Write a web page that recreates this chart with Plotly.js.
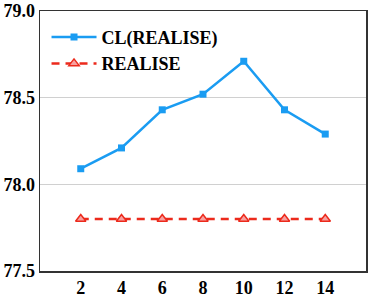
<!DOCTYPE html>
<html><head><meta charset="utf-8">
<script src="https://cdn.plot.ly/plotly-3.0.1.min.js"></script>
<style>html,body{margin:0;padding:0;background:#fff}#c{width:368px;height:294px}</style>
</head><body><div id="c"></div>
<script>
const xVals = [2, 4, 6, 8, 10, 12, 14];
const clRealise = [78.09, 78.21, 78.43, 78.52, 78.71, 78.43, 78.29];
const realise = [77.80, 77.80, 77.80, 77.80, 77.80, 77.80, 77.80];
const yTicks = [77.5, 78.0, 78.5, 79.0];
const yTickText = ['77.5', '78.0', '78.5', '79.0'];
const seriesNames = ['CL(REALISE)', 'REALISE'];

const fam = 'Liberation Serif';
const traces = [
  {x: xVals, y: clRealise, name: seriesNames[0], type: 'scatter', mode: 'lines+markers',
   line: {color: '#1a9cf2', width: 2.5}, marker: {symbol: 'square', size: 7, color: '#1a9cf2'}},
  {x: xVals, y: realise, name: seriesNames[1], type: 'scatter', mode: 'lines+markers',
   line: {color: '#ec2a1c', width: 2.5, dash: '8px,6px'},
   marker: {symbol: 'triangle-up', size: 9, color: '#f7a0a0', line: {color: '#ec2a1c', width: 1.5}}}
];
const layout = {
  width: 368, height: 294,
  margin: {l: 40, r: 2, t: 11, b: 23},
  font: {family: fam, size: 18, color: '#000', weight: 'bold'},
  showlegend: true,
  legend: {x: 0.02, y: 0.97, xanchor: 'left', yanchor: 'top', bgcolor: 'rgba(0,0,0,0)',
           itemwidth: 45, tracegroupgap: 0},
  xaxis: {range: [0, 16], tickvals: xVals, ticktext: xVals.map(String),
          showgrid: false, zeroline: false, showline: true, linecolor: '#333', linewidth: 1.5,
          mirror: true, ticks: ''},
  yaxis: {range: [77.5, 79.0], tickvals: yTicks, ticktext: yTickText,
          showgrid: true, gridcolor: '#d0d0d0', gridwidth: 1, zeroline: false, showline: true,
          linecolor: '#333', linewidth: 1.5, mirror: true, ticks: ''}
};
Plotly.newPlot('c', traces, layout, {displayModeBar: false, staticPlot: true});
</script></body></html>
